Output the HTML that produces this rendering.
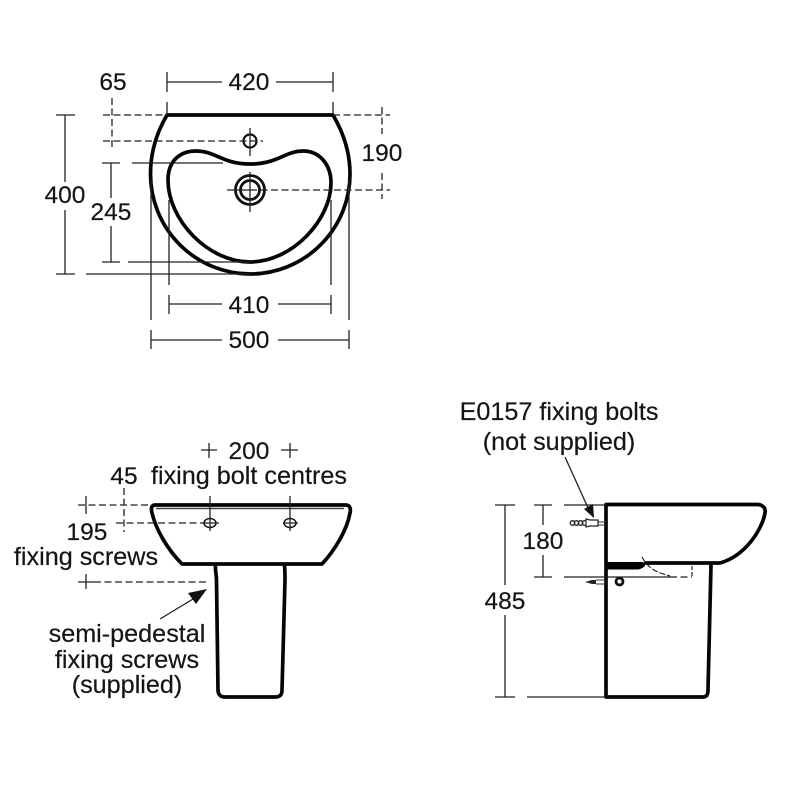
<!DOCTYPE html>
<html><head><meta charset="utf-8"><style>
html,body{margin:0;padding:0;background:#fff}
svg{display:block;filter:blur(.35px)}
text{font-family:"Liberation Sans",sans-serif;font-size:24.5px;fill:#151515;stroke:#151515;stroke-width:.2;text-anchor:middle}
text.l{font-size:25.2px}
.t{fill:none;stroke:#050505;stroke-width:3.7;stroke-linejoin:round;stroke-linecap:round}
.d{fill:none;stroke:#222;stroke-width:1.3}
.s{fill:none;stroke:#222;stroke-width:1.3;stroke-dasharray:7 3.5}
</style></head><body>
<svg width="800" height="800" viewBox="0 0 800 800" xmlns="http://www.w3.org/2000/svg">
<!-- TOP VIEW -->
<path class="t" d="M167 115H333C343 132 350 152 350 174A100 100 0 0 1 250 274A100 100 0 0 1 150.500 174C150.500 152 157 132 167 115Z"/>
<path class="t" d="M168 180C168 160 181 151 196 151C216 151 222 164 250 164C278 164 285 151 303 151C320 151 331 165 331 183C331 220 292 262 250 262C208 262 168 220 168 180Z"/>
<circle cx="250" cy="141" r="6.500" fill="none" stroke="#111" stroke-width="2.200"/>
<circle cx="250" cy="190" r="14.500" fill="none" stroke="#111" stroke-width="2.800"/>
<circle cx="250" cy="190" r="9.500" fill="none" stroke="#111" stroke-width="2.800"/>
<path class="d" d="M250 128V156M250 172V212M227 190H250"/>
<!-- 420 -->
<path class="d" d="M167 72V92M333 72V92M167 82H222M276 82H333M167 102V115M333 102V115"/>
<text x="249" y="90">420</text>
<text x="113" y="90">65</text>
<!-- 65 dims -->
<path class="s" d="M112 98V150"/>
<path class="s" d="M103 115H167"/>
<path class="s" d="M103 141H263"/>
<!-- 190 -->
<path class="s" d="M333 115H390"/>
<path class="s" d="M250 190H390"/>
<path class="s" d="M382 107V134"/>
<path class="s" d="M382 173V199"/>
<text x="382" y="161">190</text>
<!-- 400 -->
<path class="d" d="M56 115H75M65 115V182M65 210V274M56 274H75M86 274H250"/>
<text x="65" y="203">400</text>
<!-- 245 -->
<path class="d" d="M102 163H120M111 163V198M111 226V262M102 262H120M132 163H223M128 262H250"/>
<text x="111" y="220">245</text>
<!-- 410 -->
<path class="d" d="M169 200V285M331 200V285M169 295V314M331 295V314M169 304H222M278 304H331"/>
<text x="249" y="313">410</text>
<!-- 500 -->
<path class="d" d="M151 180V320M349 180V320M151 330V349M349 330V349M151 340H222M278 340H349"/>
<text x="249" y="348">500</text>

<!-- FRONT VIEW -->
<path class="t" d="M155 505H346C350 505 351 509 350 513C347 530 335 550 322 564H182C168 550 156 530 152 513C151 509 151 505 155 505Z"/>
<path d="M156 508.500H344" stroke="#111" stroke-width="1.600" fill="none" opacity=".8"/>
<path class="t" d="M215.500 565C215 570 216.500 575 216.500 580L218 690C218 695 221 697 225 697H275C280 697 282 695 282 690L285 580C285 575 285 570 284.500 565"/>
<ellipse cx="210" cy="523" rx="6" ry="4.500" fill="none" stroke="#111" stroke-width="1.500"/>
<ellipse cx="290" cy="523" rx="6" ry="4.500" fill="none" stroke="#111" stroke-width="1.500"/>
<path class="d" d="M210 496V531M290 496V531M203 523H219M283 523H298"/>
<path class="d" d="M201 450H217M209 443V458M281 450H298M290 443V458"/>
<text x="249" y="459">200</text>
<text class="l" x="249" y="484">fixing bolt centres</text>
<text x="124" y="484">45</text>
<path class="s" d="M124 488V532"/>
<path class="s" d="M78 505H152"/>
<path class="s" d="M116 523H205"/>
<path class="d" d="M86 496V514M78 582H94M86 574V589"/>
<text x="87" y="540">195</text>
<text class="l" x="86" y="565">fixing screws</text>
<path class="s" d="M94 582H208"/>
<path d="M160 619L198 596" stroke="#222" stroke-width="1.300" fill="none"/>
<path d="M207 589L188 593L196 604Z" fill="#111"/>
<text class="l" x="127" y="642">semi-pedestal</text>
<text class="l" x="127" y="668">fixing screws</text>
<text class="l" x="127" y="693">(supplied)</text>

<!-- SIDE VIEW -->
<text class="l" x="559" y="420">E0157 fixing bolts</text>
<text class="l" x="559" y="450">(not supplied)</text>
<path d="M565 457L589 510" stroke="#222" stroke-width="1.300" fill="none"/>
<path d="M594 518L584 509L593 504Z" fill="#111"/>
<path class="t" d="M606 504.500H758C763 505 766 508 765 513C762 530 745 556 720 563H646"/>
<path class="t" d="M606 505V697H703C707 697 708 694 708 690L711 565"/>
<path d="M606 562H641C646 562 646 565 644 567C642 568 640 569.500 638 569.500H606Z" fill="#000"/>
<path d="M642 557C648 568 655 572 670 576" fill="none" stroke="#222" stroke-width="1.200" stroke-dasharray="6 2"/>
<path class="s" d="M670 577H692"/>
<path d="M692 566V576" stroke="#333" stroke-width="1.300" stroke-dasharray="4 2" fill="none"/>
<!-- bolts -->
<g fill="none" stroke="#222" stroke-width="1.300"><circle cx="572.500" cy="523" r="2.300"/><circle cx="576.500" cy="523" r="2.300"/><circle cx="580.500" cy="523" r="2.300"/><circle cx="584.500" cy="523" r="2.300"/></g>
<path d="M586 519L590 520H598V526H590L586 527Z" fill="#fff" stroke="#222" stroke-width="1.200"/>
<path d="M598 522H606M598 525H606" stroke="#333" stroke-width="1"/>
<path d="M585 582L592 580H596V584H592Z" fill="#222"/>
<path d="M596 580H606M596 584H606" stroke="#333" stroke-width="1"/>
<circle cx="619.500" cy="581.500" r="3.500" fill="none" stroke="#111" stroke-width="2.800"/>
<!-- 180 / 485 -->
<path class="d" d="M534 505H552M543 505V525M543 555V577M534 577H552M564 505H606M564 577H670"/>
<text x="543" y="549">180</text>
<path class="d" d="M495 505H515M505 505V585M505 615V697M495 697H515M527 697H606"/>
<text x="505" y="609">485</text>
</svg>
</body></html>
